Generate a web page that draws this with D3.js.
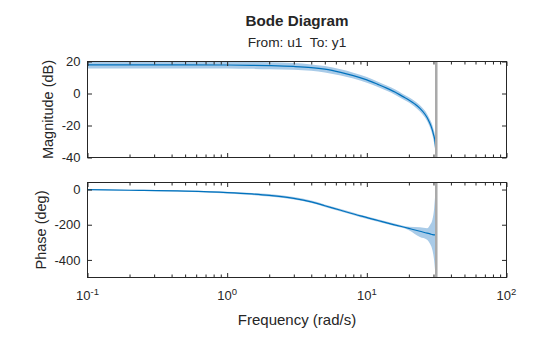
<!DOCTYPE html>
<html><head><meta charset="utf-8">
<script src="https://cdn.jsdelivr.net/npm/d3@7"></script>
<style>
html,body{margin:0;padding:0;background:#fff;}
svg{display:block;font-family:"Liberation Sans",Arial,sans-serif;}
</style></head>
<body>
<svg id="chart" width="560" height="337"></svg>
<script>
// ---------- data ----------
const magFreq = [0.1,0.2,0.5,1,1.5,2,3,4,5,6.5,8,10,12,14,16,18,20,22,24,26,27,28,29,30,30.8,31.2,31.42];
const magVal  = [17.9,17.9,17.9,17.8,17.6,17.4,16.9,16.2,15.2,13.2,11.2,8.5,5.7,3.2,0.8,-1.8,-4.0,-6.5,-9.3,-12.8,-15,-17.8,-21,-25.5,-30.5,-37,-60];
const magHi   = [20.1,20.1,20.1,20.0,19.8,19.5,19.0,18.2,17.2,15.1,13.0,10.3,7.4,4.9,2.5,-0.1,-2.3,-4.7,-7.4,-10.7,-12.8,-15.4,-18.2,-22.2,-26.5,-31,-45];
const magLo   = [15.7,15.7,15.7,15.6,15.4,15.2,14.8,14.2,13.2,11.3,9.4,6.7,4.0,1.5,-0.9,-3.5,-5.7,-8.3,-11.2,-14.9,-17.2,-20.2,-23.8,-29,-35,-45,-75];

const phFreq = [0.1,0.2,0.5,1,1.5,2,3,4,5,6.5,9,12,15.5,20,24,27,28.4,29.5,30.3,30.9,31.2,31.35,31.42];
const phVal  = [-1,-4,-9,-17,-25,-33,-50,-70,-92,-118,-150,-176,-199,-221,-237,-248,-252,-256,-258,-257,-245,-215,-182];
const phHi   = [1,-1,-5,-12,-19,-26,-43,-63,-85,-111,-143,-169,-192,-212,-215,-220,-200,-170,-110,-20,40,60,60];
const phLo   = [-3,-7,-13,-22,-31,-40,-57,-77,-99,-125,-157,-183,-206,-231,-270,-285,-310,-345,-400,-470,-500,-520,-520];

const nyquist = 31.42;

const xMajor = [0.1,1,10,100];
const xTickExp = ["-1","0","1","2"];
const magTicks = [20,0,-20,-40];
const phTicks = [0,-200,-400];

const title = "Bode Diagram";
const subtitle = "From: u1  To: y1";
const xLabel = "Frequency (rad/s)";
const magLabel = "Magnitude (dB)";
const phLabel = "Phase (deg)";

// ---------- layout ----------
const L = 87.5, R = 506.5;
const magTop = 61.5, magBot = 157.5;
const phTop = 182.5, phBot = 277.5;
const textCol = "#262626";
const blue = "#0072BD";
const bandCol = "#a9cbe8";

const svg = d3.select("#chart");
const x = d3.scaleLog().domain([0.1,100]).range([L,R]);
const yMag = d3.scaleLinear().domain([-40,20]).range([magBot,magTop]);
const yPh = d3.scaleLinear().domain([-500,40]).range([phBot,phTop]);

const defs = svg.append("defs");
defs.append("clipPath").attr("id","cm").append("rect").attr("x",L).attr("y",magTop).attr("width",R-L).attr("height",magBot-magTop);
defs.append("clipPath").attr("id","cp").append("rect").attr("x",L).attr("y",phTop).attr("width",R-L).attr("height",phBot-phTop);

function panel(y, fr, val, hi, lo, clip, top, bot, yTicks){
  const g = svg.append("g").attr("clip-path", `url(#${clip})`);
  const area = d3.area().x((d,i)=>x(fr[i])).y0((d,i)=>y(lo[i])).y1((d,i)=>y(hi[i])).curve(d3.curveMonotoneX);
  g.append("path").datum(fr).attr("d",area).attr("fill",bandCol).attr("stroke","none");
  const line = d3.line().x((d,i)=>x(fr[i])).y((d,i)=>y(val[i])).curve(d3.curveMonotoneX);
  g.append("path").datum(fr).attr("d",line).attr("fill","none").attr("stroke",blue).attr("stroke-width",1.2);
  svg.append("line").attr("x1",x(nyquist)).attr("x2",x(nyquist)).attr("y1",top).attr("y2",bot)
    .attr("stroke","#aaaaaa").attr("stroke-width",2.5);

  const minor = x.ticks().filter(v=>!xMajor.includes(v));
  const mkX = (axisFn, ypos, vals, size)=>{
    svg.append("g").attr("transform",`translate(0,${ypos})`)
      .call(axisFn(x).tickValues(vals).tickSizeInner(-size).tickSizeOuter(0).tickFormat(""))
      .call(s=>{s.select(".domain").remove(); s.selectAll("line").attr("stroke",textCol);});
  };
  mkX(d3.axisBottom, bot, xMajor, 4.5);
  mkX(d3.axisBottom, bot, minor, 3);
  mkX(d3.axisTop, top, xMajor, 4.5);
  mkX(d3.axisTop, top, minor, 3);
  svg.append("g").attr("transform",`translate(${L},0)`)
    .call(d3.axisLeft(y).tickValues(yTicks).tickSizeInner(-4.5).tickSizeOuter(0).tickPadding(7).tickFormat(d=>String(d)))
    .call(s=>{s.select(".domain").remove(); s.selectAll("line").attr("stroke",textCol);
      s.selectAll("text").attr("fill",textCol).attr("font-size",13).attr("font-family","Liberation Sans, Arial, sans-serif");});
  svg.append("g").attr("transform",`translate(${R},0)`)
    .call(d3.axisRight(y).tickValues(yTicks).tickSizeInner(-4.5).tickSizeOuter(0).tickFormat(""))
    .call(s=>{s.select(".domain").remove(); s.selectAll("line").attr("stroke",textCol);});
  svg.append("rect").attr("x",L).attr("y",top).attr("width",R-L).attr("height",bot-top)
    .attr("fill","none").attr("stroke",textCol).attr("stroke-width",1);
}

panel(yMag, magFreq, magVal, magHi, magLo, "cm", magTop, magBot, magTicks);
panel(yPh, phFreq, phVal, phHi, phLo, "cp", phTop, phBot, phTicks);

xMajor.forEach((v,i)=>{
  const t = svg.append("text").attr("x",x(v)).attr("y",300).attr("text-anchor","middle")
    .attr("font-size",13).attr("fill",textCol);
  t.append("tspan").text("10");
  t.append("tspan").attr("dy",-5).attr("font-size",9.5).text(xTickExp[i]);
});

const cx = (L+R)/2;
svg.append("text").attr("x",cx).attr("y",25.5).attr("text-anchor","middle").attr("font-size",15.2)
  .attr("font-weight","bold").attr("fill",textCol).text(title);
svg.append("text").attr("x",cx).attr("y",47).attr("text-anchor","middle").attr("font-size",13.7)
  .attr("fill",textCol).style("white-space","pre").attr("xml:space","preserve").text(subtitle);
svg.append("text").attr("x",cx).attr("y",325).attr("text-anchor","middle").attr("font-size",15)
  .attr("fill",textCol).text(xLabel);
svg.append("text").attr("transform",`translate(53,${(magTop+magBot)/2}) rotate(-90)`).attr("text-anchor","middle")
  .attr("font-size",14.5).attr("fill",textCol).text(magLabel);
svg.append("text").attr("transform",`translate(46,${(phTop+phBot)/2}) rotate(-90)`).attr("text-anchor","middle")
  .attr("font-size",14.5).attr("fill",textCol).text(phLabel);
</script>
</body></html>
